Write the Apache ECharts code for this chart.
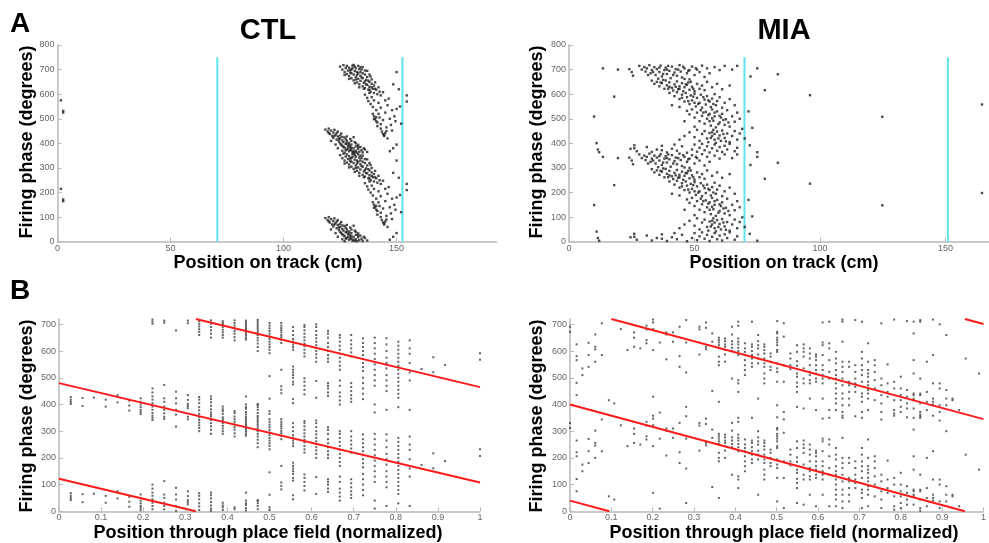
<!DOCTYPE html>
<html>
<head>
<meta charset="utf-8">
<script src="https://cdn.jsdelivr.net/npm/echarts@6/dist/echarts.min.js"></script>
<style>
  html, body { margin: 0; padding: 0; background: #ffffff; }
  #chart { width: 989px; height: 543px; }
</style>
</head>
<body>
<div id="chart"></div>
<script>
// ---- Panel A: spike position on the track (cm) and theta phase within one cycle (deg).
// Each spike is drawn twice, at phase and phase + 360, so two cycles are shown.
const ctlTrackSpikes = [
  // place-field entry, late phases of the first cycle
  [118.5,96],[119.5,88],[120,100],[120.5,78],[121,92],[121.5,70],[122,84],[122,62],[122.5,95],[123,75],
  [123.5,55],[124,68],[124,88],[124.5,48],[125,60],[125,40],[125.5,80],[126,52],[126,30],[126.5,45],
  [127,64],[127,22],[127.5,38],[128,50],[128,15],[128.5,30],[129,42],[129,8],[129.5,25],[130,35],
  [130,12],[130.5,4],[131,20],[131.5,45],[132,10],[132,28],[132.5,2],[133,18],[133.5,6],[134,25],
  [134.5,12],[135,3],[136,15],[137,5],[127,2],[126,10],[124,20],[123,35],[121,50],[129.5,58],[131,65],
  [120,82],[122.5,70],[125,72],[127.5,56],[130,50],[133,34],[135.5,20],[128,68],
  [126.5,26],[127.5,12],[128.5,20],[129,33],[130,22],[131,8],[132,40],[125.5,35],[124.5,58],[123.5,82],
  [126,66],[128,40],[129.5,14],[131.5,3],[133,26],
  // main precession band
  [125,352],[126,340],[126.5,358],[127,330],[127.5,346],[128,355],[128,322],[128.5,336],[129,348],[129,314],
  [129.5,328],[130,340],[130,305],[130.5,356],[131,320],[131,296],[131.5,334],[132,310],[132,345],[132.5,288],
  [133,302],[133,325],[133.5,280],[134,315],[134,294],[134.5,340],[135,272],[135,305],[135.5,286],[136,320],
  [136,265],[136.5,298],[137,278],[137,310],[137.5,258],[138,290],[138,270],[138.5,250],[139,282],[139,300],
  [139.5,262],[140,275],[140,245],[140.5,288],[141,258],[141.5,240],[142,268],[142.5,250],[143,235],[133,355],
  [135,350],[137,335],[138,320],[131,359],[129,302],[131.5,284],[133.5,268],[136,292],[134,330],[127,318],
  [130,325],[132,300],[135.5,262],[138.5,312],
  [130.5,345],[131.5,352],[132.5,330],[133.5,342],[134.5,308],[135,325],[136.5,280],[137.5,295],[139,268],
  [134,350],[132.5,318],[129.5,338],[136,336],[138,258],[140.5,262],
  // late spikes near the field exit
  [136,238],[137,225],[137.5,212],[138,245],[138.5,200],[139,228],[139.5,188],[140,215],[140,150],[140.5,140],
  [141,130],[141,175],[141.5,125],[142,160],[142,205],[142.5,145],[143,118],[143,185],[143.5,88],[144,78],
  [144,135],[144.5,70],[145,82],[145,165],[145.5,105],[146,195],[146,60],[147,140],[147.5,115],[148,175],
  [148,92],[149,150],[149.5,130],[150,180],[146.5,222],[144,248],[139.5,160],[141.5,110],[143,100],[145,215],
  [140,138],[141,146],[144.5,74],[145.5,90],[151,260],[148.5,280],[150,330],[152,120],[151.5,190],
  // isolated spikes
  [1.5,215],[2.5,172],[2.5,165],[154.5,235],[154.5,210],[148.5,20],[150,35],[147,8]
];

const miaTrackSpikes = [
  // 300-360 deg
  [28,355],[29,340],[30,350],[30.5,332],[31,345],[32,358],[32.5,325],[33,338],[34,350],[34.5,318],
  [35,342],[36,330],[36.5,356],[37,312],[38,338],[38.5,348],[39,322],[40,335],[40.5,305],[41,352],
  [42,328],[42.5,342],[43,315],[44,358],[44.5,332],[45,308],[46,345],[47,325],[48,338],[49,352],
  [50,318],[51,340],[52,330],[53,356],[54,310],[55,345],[56,325],[58,350],[60,338],[62,355],
  [65,340],[67,355],[46,302],[35.5,303],[48,300],[31.5,318],[39.5,355],[43.5,340],
  [33.5,330],[36,348],[37.5,322],[39,340],[41.5,318],[45.5,352],[47.5,335],[50.5,345],
  // 250-300 deg
  [33,295],[34,282],[35,290],[36,272],[37,285],[38,262],[38.5,296],[39,276],[40,288],[41,266],
  [41.5,255],[42,280],[43,292],[43.5,260],[44,272],[45,285],[45.5,252],[46,268],[47,278],[48,258],
  [48.5,290],[49,270],[50,252],[51,282],[52,262],[53,275],[54,256],[55,290],[57,268],[59,282],
  [61,260],[64,275],[37.5,298],[40,270],[44,262],[47.5,288],
  [36.5,288],[39.5,262],[42.5,270],[46.5,280],[49.5,262],
  // 180-250 deg
  [40,245],[42,232],[43,248],[44,220],[45,238],[46,210],[46.5,245],[47,228],[48,200],[48.5,235],
  [49,215],[50,242],[50.5,190],[51,225],[52,205],[52.5,238],[53,185],[54,218],[54.5,198],[55,232],
  [56,210],[56.5,188],[57,222],[58,240],[58.5,195],[59,212],[60,228],[61,185],[62,205],[64,220],
  [66,195],[44,188],[41,195],[47.5,212],[51.5,200],[53.5,228],
  [45,225],[49.5,230],[50,205],[55.5,215],[57.5,200],
  // 100-180 deg
  [47,172],[48,158],[49,178],[50,145],[51,165],[52,130],[52.5,175],[53,152],[54,120],[54.5,168],
  [55,140],[56,160],[56.5,112],[57,178],[57.5,132],[58,150],[58.5,105],[59,170],[60,125],[60.5,145],
  [61,160],[62,115],[62.5,138],[63,175],[64,108],[65,150],[66,128],[67,165],[68,140],[46,130],
  [50,108],[55.5,155],[59.5,118],[57,142],
  [53.5,165],[56,130],[58,165],[60,152],[61.5,135],[63.5,125],
  // 40-100 deg
  [48,85],[50,65],[51,95],[52,50],[53,78],[54,90],[55,60],[55.5,45],[56,82],[57,70],
  [57.5,95],[58,55],[58.5,42],[59,88],[60,72],[60.5,50],[61,92],[62,62],[63,80],[64,45],
  [65,70],[66,90],[67,55],[68,80],[46,70],[44,55],[56.5,62],[58,78],
  [59.5,60],[61.5,78],[62.5,48],[57,85],
  // 0-40 deg
  [26,20],[27,8],[31,25],[33,5],[35,15],[37,30],[39,3],[41,18],[43,10],[45,28],
  [47,2],[49,15],[50,35],[51,6],[52,22],[53,38],[54,12],[55,28],[56,3],[57,20],
  [58,35],[59,10],[60,25],[61,5],[62,30],[63,15],[64,38],[66,8],[67,22],[37,12],[42,35],
  // isolated spikes
  [10,149],[11,41],[11.5,15],[12,4],[13.5,345],[18,230],[19.5,340],[24,342],[25,330],[25.5,315],
  [26,32],[24.5,18],[72,32],[72.3,312],[73,103],[75,345],[75,4],[78,256],[83.2,321],[96,236],
  [124.8,148],[164.5,198],[69,99],[70,60],[71.5,170]
];

// Place-field boundaries (cm)
const ctlFieldEdges = [70.7, 152.6];
const miaFieldEdges = [69.9, 150.9];
const fieldEdgeTop = 750;

// ---- Panel B: normalized position through the field, phases per position bin (deg)
const ctlFieldColumns = [
  [0.028,[42,50,58,68]],
  [0.056,[34,64]],
  [0.083,[66]],
  [0.111,[32,58]],
  [0.139,[48,75]],
  [0.167,[17,36,54]],
  [0.194,[4,12,20,30,40,50,63]],
  [0.222,[8,20,32,45,58,70,85,100,342,350,358]],
  [0.25,[7,20,32,50,63,113,346,354]],
  [0.278,[2,20,44,63,88,317]],
  [0.306,[26,34,42,57,75,344,354]],
  [0.333,[5,18,30,45,58,68,300,312,322,332,342,352]],
  [0.361,[2,10,22,35,48,60,70,290,305,318,330,342,355]],
  [0.389,[5,15,22,32,290,300,310,320,330,338,345,352]],
  [0.417,[8,15,280,292,305,315,325,335,345,355]],
  [0.444,[3,12,24,30,40,70,283,290,298,305,312,320,326,333,340,347,354]],
  [0.472,[8,20,30,38,42,240,255,268,280,290,300,310,318,326,334,342,350,357]],
  [0.5,[5,15,62,146,232,245,255,265,275,285,295,305,315,325,335,345]],
  [0.528,[82,95,108,170,270,282,292,300,310,318,326,335,345]],
  [0.556,[45,60,115,125,140,150,160,170,182,245,255,265,275,285,300,315,330]],
  [0.583,[78,95,110,125,138,220,232,245,258,268,280,292,305,318,330,338]],
  [0.611,[65,128,200,215,228,240,252,262,275,288,300,315,330,340]],
  [0.639,[72,85,100,110,120,200,212,225,240,255,270,290,305,315]],
  [0.667,[40,55,70,85,110,130,170,185,200,215,230,245,260,275,290,300]],
  [0.694,[50,62,75,90,105,120,220,235,250,265,280,300]],
  [0.722,[60,80,100,120,140,165,180,195,210,225,240,255,270,288]],
  [0.75,[10,40,110,130,150,170,190,210,230,250,270,290]],
  [0.778,[20,90,110,130,150,175,195,215,240,265,288]],
  [0.806,[30,65,80,95,110,125,140,155,170,185,200,215,230,245,260,275]],
  [0.833,[20,130,160,195,230,250,280]],
  [0.861,[173]],
  [0.889,[161,217]],
  [0.917,[188]],
  [1.0,[207,232]]
];

const miaFieldColumns = [
  [0.0,[331,312]],
  [0.016,[265,221,206,121,75]],
  [0.03,[175,150]],
  [0.045,[271,225,181]],
  [0.061,[302,256,246,200]],
  [0.077,[344,225]],
  [0.094,[56]],
  [0.107,[44]],
  [0.123,[322]],
  [0.139,[244]],
  [0.155,[310,290,256]],
  [0.17,[250]],
  [0.185,[335,321,281,269]],
  [0.201,[358,347,322,244,69]],
  [0.217,[272,10]],
  [0.233,[310,302,209]],
  [0.249,[310,275]],
  [0.265,[331,221,181]],
  [0.281,[356,272,160,31]],
  [0.313,[331,321,227]],
  [0.329,[347,327,256,247]],
  [0.344,[306,275,91]],
  [0.36,[290,281,272,262,252,219,200,187,50]],
  [0.375,[287,277,265,256,244,227,200]],
  [0.392,[331,302,277,265,252,240,137]],
  [0.407,[350,335,287,275,265,252,240,225,131,119,87]],
  [0.423,[269,250,237,225,206,187,169,150]],
  [0.44,[350,265,256,240,225,212,194,181]],
  [0.455,[300,277,262,250,227,212,194,62]],
  [0.47,[265,256,244,231,212,194,181,156,137,119]],
  [0.485,[231,219,200,181,169]],
  [0.501,[352,312,306,290,281,272,262,244,237,194,175,162,125,37]],
  [0.517,[344,294,187,125,12]],
  [0.533,[231,212,187,172]],
  [0.549,[262,237,202,185,156,144,122,106,87,31]],
  [0.565,[265,250,237,219,175,137,119,25]],
  [0.58,[250,231,212,187,162,150,131,119,62]],
  [0.595,[227,219,206,187,169,156,137,125,19]],
  [0.611,[347,272,262,225,187,169,150,137,119,62]],
  [0.627,[350,269,250,206,162,137,19]],
  [0.643,[237,212,194,169,150,137,119,100,81,62,44,19]],
  [0.659,[358,350,275,200,181,162,137,112,81,62,37,12]],
  [0.675,[200,181,125,112,87,62,37]],
  [0.69,[356,187,162,137,119,106,87]],
  [0.706,[350,237,212,187,169,150,125,81,69,50,12]],
  [0.721,[269,200,169,156,144,125,112,94,81,62,19]],
  [0.737,[206,187,162,131,100,56]],
  [0.753,[344,137,112,75,44,12]],
  [0.768,[190,119,87,69]],
  [0.784,[358,125,100,56,19,6]],
  [0.8,[144,100,75,56,31,12]],
  [0.815,[352,94,69,44,25]],
  [0.831,[350,306,206,156,81,75,62,56,25]],
  [0.847,[356,350,137,81,75,44,12,2]],
  [0.863,[200,87,50,19]],
  [0.878,[358,225,119,62,50,40]],
  [0.894,[340,119,100,37,12]],
  [0.91,[300,94,62,37]],
  [0.925,[62,56]],
  [0.941,[19]],
  [0.957,[212]],
  [0.989,[156]]
];

// Circular-linear fit lines (segments of one fit, repeated every 360 deg)
const ctlFitSegments = [
  [[0, 122], [0.325, 0]],
  [[0, 480], [1, 108]],
  [[0.325, 720], [1, 465]]
];
const miaFitSegments = [
  [[0, 40], [0.095, 0]],
  [[0, 400], [0.955, 0]],
  [[0.1, 720], [1, 345]],
  [[0.955, 720], [1, 701]]
];

// Tick labels
const trackTicks = [0, 50, 100, 150];
const phaseTicksA = [0, 100, 200, 300, 400, 500, 600, 700, 800];
const phaseTicksB = [0, 100, 200, 300, 400, 500, 600, 700];
const fieldTicks = [0, 0.1, 0.2, 0.3, 0.4, 0.5, 0.6, 0.7, 0.8, 0.9, 1];

// ---- helpers
const twoCycles = spikes => spikes.flatMap(([x, p]) => [[x, p], [x, p + 360]]);
const twoCyclesCols = cols => cols.flatMap(([x, ps]) => ps.flatMap(p => [[x, p], [x, p + 360]]));

const AXIS_GRAY = '#b8b8b8';
const LABEL_GRAY = '#666666';
const FONT = 'Liberation Sans, Arial, Helvetica, sans-serif';

function valueAxis(gridIndex, min, max, ticks, fmt, margin) {
  return {
    type: 'value', gridIndex, min, max,
    interval: ticks[1] - ticks[0],
    axisLine: { show: true, onZero: false, lineStyle: { color: AXIS_GRAY, width: 1.5 } },
    axisTick: { show: true, inside: true, length: 4, lineStyle: { color: AXIS_GRAY }, customValues: ticks },
    axisLabel: {
      show: true, color: LABEL_GRAY, fontSize: 9, fontFamily: FONT, margin,
      customValues: ticks,
      formatter: v => (ticks.some(t => Math.abs(t - v) < 1e-9) ? fmt(v) : '')
    },
    splitLine: { show: false }
  };
}
const intFmt = v => String(Math.round(v));
const decFmt = v => String(+v.toFixed(1));

const grids = [
  { left: 57.5, top: 45, width: 439, height: 196.7 },   // A CTL
  { left: 569, top: 45, width: 420, height: 196.7 },    // A MIA
  { left: 59, top: 319, width: 421, height: 192.3 },    // B CTL
  { left: 570, top: 319, width: 419, height: 192.3 }    // B MIA
];

const xAxes = [
  valueAxis(0, 0, 194.2, trackTicks, intFmt, 2),
  valueAxis(1, 0, 167.3, trackTicks, intFmt, 2),
  valueAxis(2, 0, 1, fieldTicks, decFmt, 2),
  valueAxis(3, 0, 1, fieldTicks, decFmt, 2)
];
const yAxes = [
  valueAxis(0, 0, 800, phaseTicksA, intFmt, 3),
  valueAxis(1, 0, 800, phaseTicksA, intFmt, 3),
  valueAxis(2, 0, 720, phaseTicksB, intFmt, 3),
  valueAxis(3, 0, 720, phaseTicksB, intFmt, 3)
];

function dots(idx, data, color, size) {
  return {
    type: 'scatter', xAxisIndex: idx, yAxisIndex: idx, data,
    symbol: 'rect', symbolSize: size, silent: true,
    itemStyle: { color }, z: 3
  };
}
function segment(idx, data, color, width, z) {
  return {
    type: 'line', xAxisIndex: idx, yAxisIndex: idx, data,
    symbol: 'none', silent: true, clip: true,
    lineStyle: { color, width }, z
  };
}

const series = [
  dots(0, twoCycles(ctlTrackSpikes), '#1e1e1e', 2.4),
  dots(1, twoCycles(miaTrackSpikes), '#1e1e1e', 2.4),
  dots(2, twoCyclesCols(ctlFieldColumns), '#3c3c3c', 2),
  dots(3, twoCyclesCols(miaFieldColumns), '#3c3c3c', 2),
  ...ctlFieldEdges.map(e => segment(0, [[e, 0], [e, fieldEdgeTop]], '#5fe3ef', 2, 2)),
  ...miaFieldEdges.map(e => segment(1, [[e, 0], [e, fieldEdgeTop]], '#5fe3ef', 2, 2)),
  ...ctlFitSegments.map(s => segment(2, s, '#ff1a1a', 2, 4)),
  ...miaFitSegments.map(s => segment(3, s, '#ff1a1a', 2, 4))
];

// Text placed by its visual centre
function label(text, x, y, size, opts = {}) {
  return {
    type: 'text', x, y, rotation: opts.rotation || 0, silent: true,
    style: {
      text, fill: '#000', font: `bold ${size}px ${FONT}`,
      textAlign: opts.align || 'center', textVerticalAlign: 'middle'
    }
  };
}

const graphic = [
  label('A', 10, 24, 28, { align: 'left' }),
  label('B', 10, 291, 28, { align: 'left' }),
  label('CTL', 268, 31, 29),
  label('MIA', 784, 31, 29),
  label('Position on track (cm)', 268, 263, 18),
  label('Position on track (cm)', 784, 263, 18),
  label('Position through place field (normalized)', 268, 533, 18),
  label('Position through place field (normalized)', 784, 533, 18),
  label('Firing phase (degrees)', 27.5, 142, 18, { rotation: Math.PI / 2 }),
  label('Firing phase (degrees)', 537, 142, 18, { rotation: Math.PI / 2 }),
  label('Firing phase (degrees)', 27.5, 416, 18, { rotation: Math.PI / 2 }),
  label('Firing phase (degrees)', 537, 416, 18, { rotation: Math.PI / 2 })
];

const chart = echarts.init(document.getElementById('chart'), null, { renderer: 'canvas' });
chart.setOption({
  animation: false,
  backgroundColor: '#ffffff',
  grid: grids,
  xAxis: xAxes,
  yAxis: yAxes,
  series,
  graphic
});
</script>
</body>
</html>
